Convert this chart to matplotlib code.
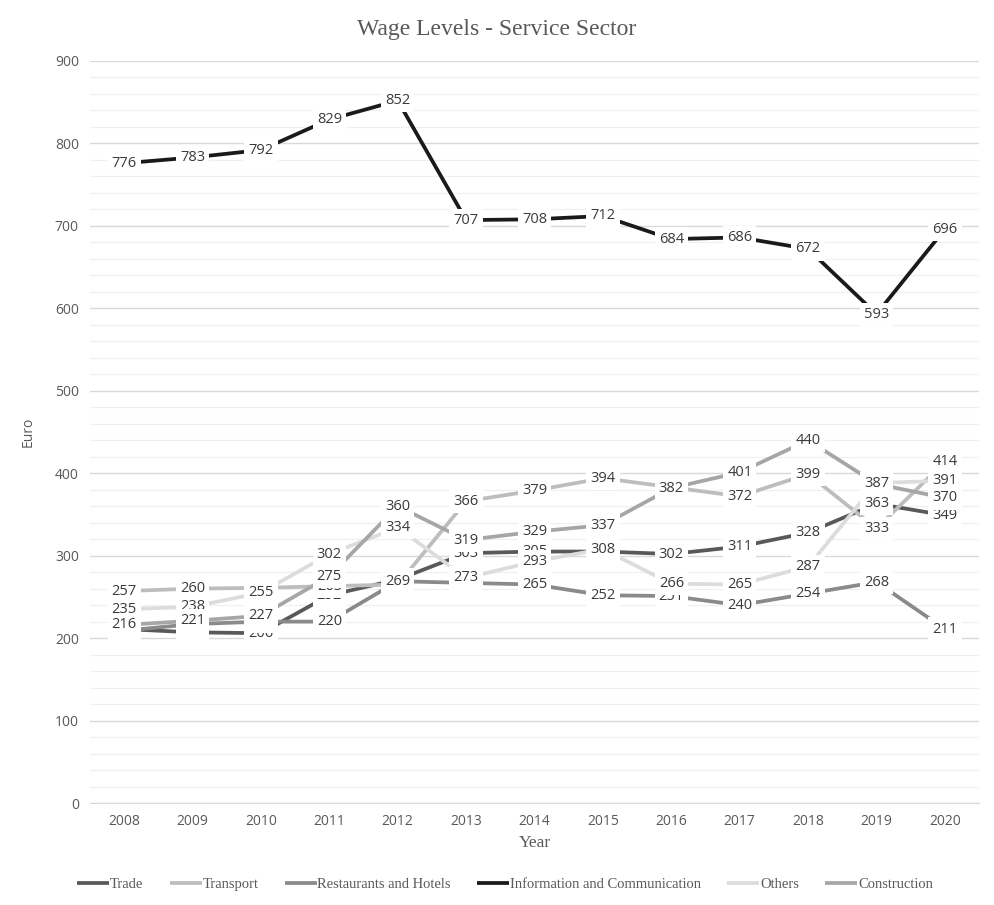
import numpy as np
import matplotlib
matplotlib.use('Agg')
import matplotlib.pyplot as plt
from matplotlib.ticker import MultipleLocator

years = [2008, 2009, 2010, 2011, 2012, 2013, 2014, 2015, 2016, 2017, 2018, 2019, 2020]

trade = [211, 207, 206, 252, 271, 303, 305, 305, 302, 311, 328, 363, 349]
transport = [257, 260, 261, 263, 265, 366, 379, 394, 383, 372, 399, 333, 414]
restaurants = [209, 217, 220, 220, 269, 267, 265, 252, 251, 240, 254, 268, 211]
info = [776, 783, 792, 829, 852, 707, 708, 712, 684, 686, 672, 593, 696]
others = [235, 238, 255, 302, 334, 273, 293, 308, 266, 265, 287, 388, 391]
construction = [216, 221, 227, 275, 360, 319, 329, 337, 382, 401, 440, 387, 370]

series = [
    ('Trade', trade, '#595959'),
    ('Transport', transport, '#BDBDBD'),
    ('Restaurants and Hotels', restaurants, '#8A8A8A'),
    ('Information and Communication', info, '#1A1A1A'),
    ('Others', others, '#DCDCDC'),
    ('Construction', construction, '#A6A6A6'),
]

sans = 'Open Sans'
serif = 'Liberation Serif'

fig = plt.figure(figsize=(9.94, 9.05), dpi=100)
ax = fig.add_axes([0.0905, 0.1127, 0.8945, 0.8199])

x = np.arange(len(years))
for i, (name, vals, col) in enumerate(series):
    ax.plot(x, vals, color=col, lw=2.7, label=name, zorder=3, solid_capstyle='butt')

# data labels sit above every line, later series on top
for i, (name, vals, col) in enumerate(series):
    for xi, v in zip(x, vals):
        ax.text(xi, v, str(v), ha='center', va='center', fontsize=10.5, family=sans,
                color='#3A3A3A', zorder=10 + i,
                bbox=dict(boxstyle='square,pad=0.28', fc='white', ec='none'))

ax.set_xlim(-0.5, len(years) - 0.5)
ax.set_ylim(0, 900)
ax.yaxis.set_major_locator(MultipleLocator(100))
ax.yaxis.set_minor_locator(MultipleLocator(20))
ax.grid(which='major', axis='y', color='#D9D9D9', lw=1.0, zorder=0)
ax.grid(which='minor', axis='y', color='#F0F0F0', lw=0.9, zorder=0)
ax.set_axisbelow(True)
ax.set_xticks(x)
ax.set_xticklabels([str(y) for y in years], family=sans, fontsize=10, color='#595959')
for lab in ax.get_yticklabels():
    lab.set_family(sans)
    lab.set_fontsize(10)
    lab.set_color('#595959')
ax.tick_params(axis='both', which='both', length=0, pad=8)
for s in ['top', 'right', 'left']:
    ax.spines[s].set_visible(False)
ax.spines['bottom'].set_color('#D9D9D9')

ax.set_xlabel('Year', family=serif, fontsize=12.5, color='#595959', labelpad=4)
ax.set_ylabel('Euro', family=sans, fontsize=10, color='#595959', labelpad=14)

fig.text(0.5, 0.967, 'Wage Levels - Service Sector', ha='center', va='center',
         family=serif, fontsize=17, color='#595959')

leg = fig.legend(loc='center', bbox_to_anchor=(0.508, 0.023), ncol=6, frameon=False,
                 prop={'family': serif, 'size': 10.5}, handlelength=2.2, handletextpad=0.05,
                 columnspacing=1.8)
for t in leg.get_texts():
    t.set_color('#595959')

fig.savefig('out.png', dpi=100)
